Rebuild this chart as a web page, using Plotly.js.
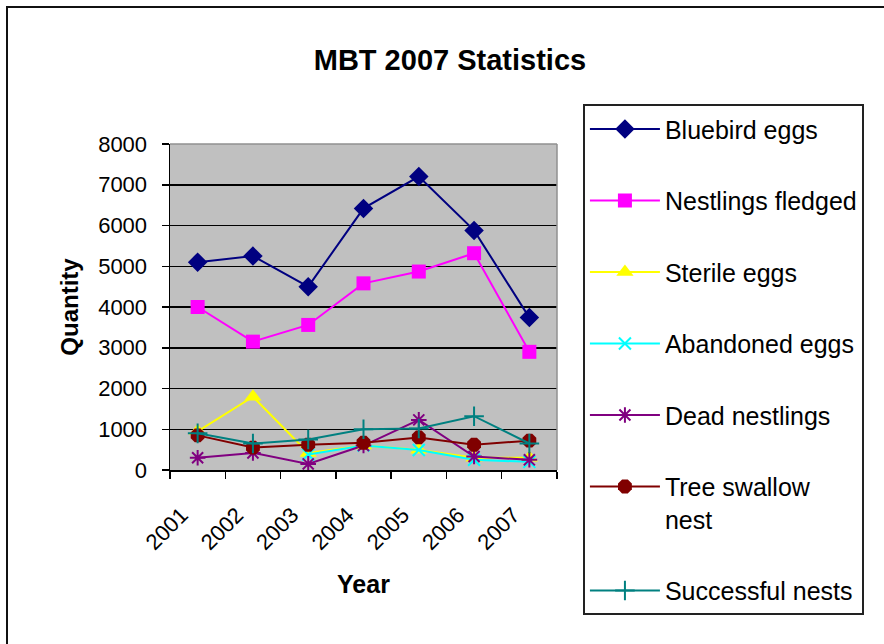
<!DOCTYPE html>
<html>
<head>
<meta charset="utf-8">
<script src="https://cdn.plot.ly/plotly-3.0.1.min.js"></script>
<style>
html,body{margin:0;padding:0;background:#fff;}
#chart{width:884px;height:644px;}
</style>
</head>
<body>
<div id="chart"></div>
<script>
const years = ['2001','2002','2003','2004','2005','2006','2007'];
const bluebirdEggs    = [5100, 5250, 4500, 6420, 7200, 5880, 3740];
const nestlingsFledged= [4000, 3150, 3560, 4580, 4870, 5320, 2900];
const sterileEggs     = [950, 1800, 420, 600, 500, 300, 300];
const abandonedEggs   = [null, null, 380, 600, 490, 250, 200];
const deadNestlings   = [300, 420, 150, 600, 1230, 330, 250];
const treeSwallowNest = [850, 550, 620, 670, 800, 620, 720];
const successfulNests = [900, 650, 750, 1000, 1020, 1320, 650];

const seriesNames = ['Bluebird eggs','Nestlings fledged','Sterile eggs','Abandoned eggs','Dead nestlings','Tree swallow<br>nest','Successful nests'];
const seriesValues = [bluebirdEggs, nestlingsFledged, sterileEggs, abandonedEggs, deadNestlings, treeSwallowNest, successfulNests];
const colors = ['#000080','#FF00FF','#FFFF00','#00FFFF','#800080','#800000','#008080'];
const symbols = ['diamond','square','triangle-up','x-thin-open','asterisk-open','octagon','cross-thin-open'];
const sizes = [15, 14, 15, 12, 13, 15, 14];

const traces = seriesValues.map((vals, i) => ({
  type: 'scatter',
  mode: 'lines+markers',
  x: years,
  y: vals,
  name: seriesNames[i],
  legendgroup: 'g' + i,
  line: {color: colors[i], width: 2},
  marker: {symbol: symbols[i], size: sizes[i], color: colors[i],
           line: {color: colors[i], width: (i === 3 || i === 4 || i === 6) ? 2 : 0}},
  connectgaps: false
}));

const font = 'Liberation Sans, Arial, sans-serif';
const layout = {
  width: 884, height: 644,
  margin: {l: 170, r: 327, t: 144, b: 174},
  paper_bgcolor: '#FFFFFF',
  plot_bgcolor: '#C0C0C0',
  font: {family: font, color: '#000', size: 22},
  showlegend: true,
  title: {text: '<b>MBT 2007 Statistics</b>', font: {family: font, size: 29, color: '#000'},
          x: 0.509, xref: 'container', xanchor: 'center', y: 0.907, yref: 'container', yanchor: 'middle'},
  xaxis: {
    type: 'category',
    range: [-0.5, 6.5],
    tickson: 'boundaries',
    ticks: 'outside', ticklen: 7, tickwidth: 1.5, tickcolor: '#000',
    showline: true, linecolor: '#000', linewidth: 1.5,
    showgrid: false, zeroline: false,
    tickangle: -45,
    tickfont: {family: font, size: 22, color: '#000'},
    ticklabelshift: -16,
    ticklabelstandoff: 22,
    title: {text: '<b>Year</b>', font: {family: font, size: 25, color: '#000'}, standoff: 21},
    fixedrange: true
  },
  yaxis: {
    range: [0, 8000],
    dtick: 1000,
    ticks: 'outside', ticklen: 7, tickwidth: 1.5, tickcolor: '#000',
    showline: true, linecolor: '#000', linewidth: 1.5,
    showgrid: true, gridcolor: '#000', gridwidth: 1.5,
    zeroline: false,
    tickfont: {family: font, size: 22, color: '#000'},
    ticklabelstandoff: 10,
    title: {text: '<b>Quantity</b>', font: {family: font, size: 24, color: '#000'}, standoff: 12},
    fixedrange: true
  },
  legend: {
    x: 1.067, xanchor: 'left',
    y: 1.122, yanchor: 'top',
    bgcolor: '#FFFFFF',
    bordercolor: '#222',
    borderwidth: 2,
    font: {family: font, size: 25, color: '#000'},
    tracegroupgap: 36,
    valign: 'top',
    traceorder: 'grouped',
    itemwidth: 70,
    maxheight: 600
  },
  shapes: [
    {type: 'line', xref: 'paper', yref: 'paper', x0: 0, x1: 1, y0: 1, y1: 1,
     line: {color: '#909090', width: 1.5}, layer: 'above'},
    {type: 'line', xref: 'paper', yref: 'paper', x0: 1, x1: 1, y0: 0, y1: 1,
     line: {color: '#909090', width: 1.5}, layer: 'above'},
    {type: 'rect', xref: 'paper', yref: 'paper',
     x0: (7 - 170) / 387, x1: (900 - 170) / 387, y0: -(660 - 470) / 326, y1: 1 + (144 - 7) / 326,
     line: {color: '#111', width: 2}, fillcolor: 'rgba(0,0,0,0)', layer: 'below'}
  ]
};

Plotly.newPlot('chart', traces, layout, {displayModeBar: false, staticPlot: true});
</script>
</body>
</html>
